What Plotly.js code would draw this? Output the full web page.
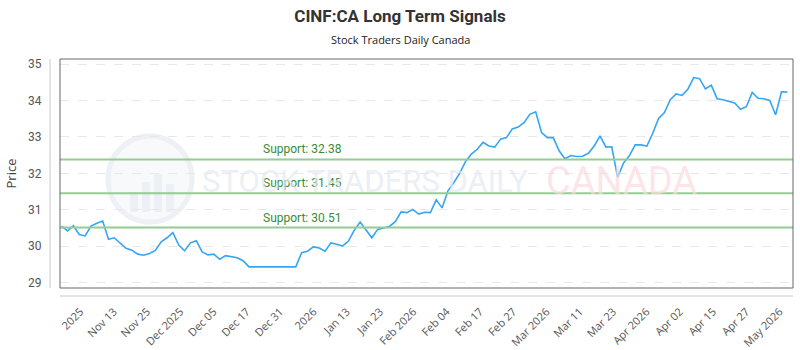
<!DOCTYPE html>
<html>
<head>
<meta charset="utf-8">
<script src="https://cdn.plot.ly/plotly-3.0.1.min.js"></script>
<style>html,body{margin:0;padding:0;background:#fff;}#chart{width:800px;height:350px;}</style>
</head>
<body>
<div id="chart"></div>
<script>
// Daily closing prices (oldest first)
const prices = [
  30.55,30.42,30.56,30.32,30.28,30.55,30.63,30.69,30.19,30.23,
  30.08,29.94,29.89,29.78,29.75,29.80,29.88,30.12,30.23,30.37,
  30.03,29.87,30.09,30.15,29.84,29.76,29.78,29.64,29.74,29.71,
  29.68,29.60,29.43,29.43,29.43,29.43,29.43,29.43,29.43,29.43,
  29.43,29.82,29.86,29.98,29.95,29.86,30.09,30.05,30.00,30.14,
  30.44,30.66,30.44,30.23,30.46,30.51,30.54,30.67,30.94,30.92,
  31.01,30.88,30.93,30.92,31.27,31.05,31.52,31.74,32.00,32.32,
  32.53,32.66,32.85,32.75,32.72,32.94,32.98,33.22,33.27,33.39,
  33.62,33.69,33.12,32.98,32.98,32.62,32.40,32.49,32.46,32.47,
  32.55,32.75,33.03,32.72,32.73,31.89,32.28,32.48,32.78,32.78,
  32.75,33.10,33.51,33.67,34.02,34.18,34.14,34.31,34.63,34.60,
  34.32,34.42,34.05,34.02,33.97,33.93,33.76,33.83,34.22,34.06,
  34.05,34.00,33.61,34.24,34.23
];
const tickLabels = ["2025","Nov 13","Nov 25","Dec 2025","Dec 05","Dec 17","Dec 31","2026",
  "Jan 13","Jan 23","Feb 2026","Feb 04","Feb 17","Feb 27","Mar 2026","Mar 11","Mar 23",
  "Apr 2026","Apr 02","Apr 15","Apr 27","May 2026"];
const supportLevels = [32.38, 31.45, 30.51];
const yTicks = [29,30,31,32,33,34,35];

const xIdx = prices.map((_, i) => i);
// tick positions along the trading-day index axis
const tickPos = tickLabels.map((_, k) => 3.2 + k * 5.69);

const plotW = 733, plotH = 229;

const shapes = [];
supportLevels.forEach(v => shapes.push({
  type: 'line', xref: 'paper', yref: 'y', x0: 0, x1: 1, y0: v, y1: v,
  line: {color: '#94cc94', width: 2}, layer: 'above'
}));
shapes.push({type:'rect', xref:'paper', yref:'paper', x0:0, x1:1, y0:0, y1:1,
  line:{color:'#666', width:1}, fillcolor:'rgba(0,0,0,0)'});
shapes.push({type:'line', xref:'paper', yref:'paper', x0:-10/plotW, x1:-10/plotW, y0:0, y1:1,
  line:{color:'#c8c8c8', width:1}});
shapes.push({type:'line', xref:'paper', yref:'paper', x0:0, x1:1, y0:-8/plotH, y1:-8/plotH,
  line:{color:'#c8c8c8', width:1}});
// watermark logo
shapes.push({type:'circle', xref:'paper', yref:'paper', layer:'below',
  x0:(108-60)/plotW, x1:(192-60)/plotW, y0:(288-222)/plotH, y1:(288-136)/plotH,
  line:{color:'#edf0f5', width:5}, fillcolor:'rgba(243,245,248,0.6)'});
[[130,192],[142,182],[154,174],[166,184]].forEach(b => shapes.push({
  type:'rect', xref:'paper', yref:'paper', layer:'below',
  x0:(b[0]-60)/plotW, x1:(b[0]+8-60)/plotW, y0:(288-212)/plotH, y1:(288-b[1])/plotH,
  line:{width:0}, fillcolor:'#eceff4'}));

const annotations = [];
supportLevels.forEach(v => annotations.push({
  xref:'paper', yref:'y', x:(302-60)/plotW, y:v, text:'Support: ' + v.toFixed(2),
  showarrow:false, xanchor:'center', yanchor:'bottom', yshift:1,
  font:{family:'Roboto', size:12, color:'#3a8a3a'}
}));
annotations.push({xref:'paper', yref:'paper', x:(200-60)/plotW, y:(288-181)/plotH,
  xanchor:'left', yanchor:'middle', showarrow:false, text:'STOCK TRADERS DAILY',
  font:{family:'Roboto', size:31, color:'rgba(228,232,239,0.7)'}});
annotations.push({xref:'paper', yref:'paper', x:(544-60)/plotW, y:(288-181)/plotH,
  xanchor:'left', yanchor:'middle', showarrow:false, text:'CANADA',
  font:{family:'Roboto', size:38, color:'rgba(252,218,222,0.7)'}});
annotations.push({xref:'paper', yref:'paper', x:(400-60)/plotW, y:1 + (59-40)/plotH,
  xanchor:'center', yanchor:'middle', showarrow:false, text:'Stock Traders Daily Canada',
  font:{family:'Open Sans', size:11, color:'#222'}});

const trace = {
  x: xIdx, y: prices, type:'scatter', mode:'lines',
  line:{color:'#35a6f3', width:1.6}, hoverinfo:'skip'
};

const layout = {
  width:800, height:350,
  margin:{l:60, r:7, t:59, b:62, pad:0},
  paper_bgcolor:'#fff', plot_bgcolor:'#fff',
  showlegend:false,
  title:{text:'CINF:CA Long Term Signals', x:0.5, xref:'container', xanchor:'center',
    y:1-16/350, yref:'container', yanchor:'middle',
    font:{family:'Roboto', size:17, color:'#333', weight:'bold'}},
  xaxis:{range:[-0.29, 124.97], tickmode:'array', tickvals:tickPos, ticktext:tickLabels,
    tickangle:-45, showgrid:false, zeroline:false, showline:false,
    ticks:'outside', ticklen:12, tickcolor:'rgba(0,0,0,0)',
    tickfont:{family:'Open Sans', size:11, color:'#555'}},
  yaxis:{range:[28.85, 35.14], tickmode:'array', tickvals:yTicks,
    showgrid:true, gridcolor:'#e8e8e8', griddash:'dash', gridwidth:1,
    zeroline:false, showline:false,
    ticks:'outside', ticklen:15, tickcolor:'rgba(0,0,0,0)',
    tickfont:{family:'Roboto', size:12, color:'#555'},
    title:{text:'Price', font:{family:'Open Sans', size:13, color:'#444'}, standoff:8}},
  shapes:shapes, annotations:annotations
};

Plotly.newPlot('chart', [trace], layout, {displayModeBar:false, staticPlot:true});
</script>
</body>
</html>
